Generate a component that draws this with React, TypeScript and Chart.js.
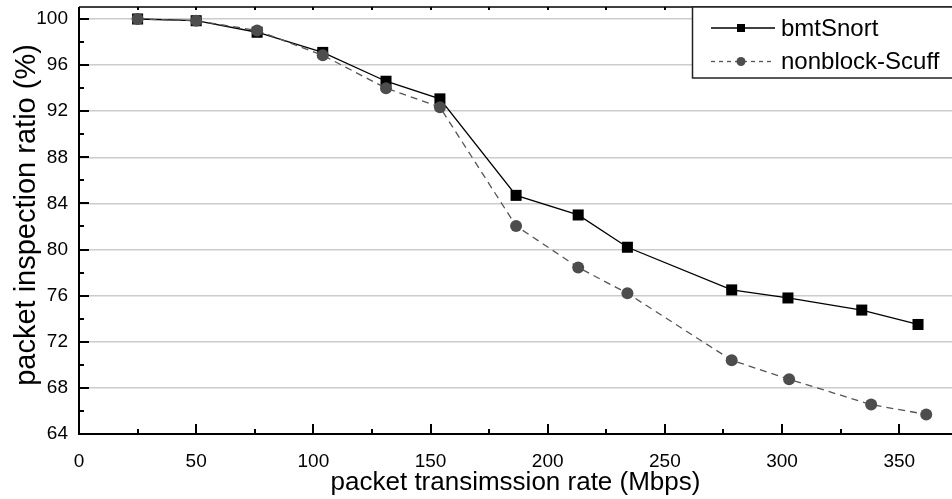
import React, { useEffect, useRef } from 'react';
import { Chart, registerables } from 'chart.js';

Chart.register(...registerables);

const FONT = '"Liberation Sans", Arial, Helvetica, sans-serif';

const seriesNames = ['bmtSnort', 'nonblock-Scuff'];
const bmtRate = [25, 50, 76, 104, 131, 154, 186.5, 213, 234, 278.5, 302.5, 334, 358];
const bmtRatio = [100, 99.85, 98.85, 97.1, 94.6, 93.07, 84.7, 83.0, 80.2, 76.5, 75.8, 74.75, 73.5];
const scuffRate = [25, 50, 76, 104, 131, 154, 186.5, 213, 234, 278.5, 303, 338, 361.5];
const scuffRatio = [100, 99.85, 99.0, 96.85, 94.0, 92.35, 82.05, 78.45, 76.2, 70.4, 68.75, 66.55, 65.7];
const xTickValues = [0, 50, 100, 150, 200, 250, 300, 350];
const yTickValues = [64, 68, 72, 76, 80, 84, 88, 92, 96, 100];
const xTitle = 'packet transimssion rate (Mbps)';
const yTitle = 'packet inspection ratio (%)';

const framePlugin = {
  id: 'frameAndLegend',
  afterDraw(chart: any) {
    const { ctx, chartArea: a, scales } = chart;
    const xs = scales.x;
    const ys = scales.y;
    ctx.save();
    ctx.strokeStyle = '#000';
    ctx.setLineDash([]);
    // frame
    ctx.lineWidth = 2;
    ctx.beginPath();
    ctx.moveTo(a.left, a.top);
    ctx.lineTo(a.left, a.bottom);
    ctx.lineTo(a.right + 2, a.bottom);
    ctx.stroke();
    ctx.lineWidth = 1.6;
    ctx.beginPath();
    ctx.moveTo(a.left, a.top);
    ctx.lineTo(a.right + 2, a.top);
    ctx.stroke();
    // x ticks (bottom + top)
    ctx.lineWidth = 2;
    for (let v = 0; v <= xs.max; v += 25) {
      const px = Math.round(xs.getPixelForValue(v));
      const major = v % 50 === 0;
      ctx.beginPath();
      ctx.moveTo(px, a.bottom);
      ctx.lineTo(px, a.bottom - (major ? 10 : 5));
      ctx.stroke();
      ctx.beginPath();
      ctx.moveTo(px, a.top);
      ctx.lineTo(px, a.top + 3);
      ctx.stroke();
    }
    // y ticks
    for (let v = 64; v <= ys.max; v += 2) {
      const py = Math.round(ys.getPixelForValue(v));
      const major = (v - 64) % 4 === 0;
      ctx.beginPath();
      ctx.moveTo(a.left, py);
      ctx.lineTo(a.left + (major ? 10 : 5), py);
      ctx.stroke();
    }
    // axis titles
    ctx.fillStyle = '#000';
    ctx.font = `26px ${FONT}`;
    ctx.textAlign = 'center';
    ctx.textBaseline = 'alphabetic';
    ctx.fillText(xTitle, (a.left + a.right) / 2, 490);
    ctx.save();
    ctx.translate(35, 215);
    ctx.rotate(-Math.PI / 2);
    ctx.font = `29px ${FONT}`;
    ctx.fillText(yTitle, 0, 0);
    ctx.restore();

    // legend
    const lx = 692.5;
    const ly = a.top;
    ctx.fillStyle = '#fff';
    ctx.fillRect(lx, ly, 960 - lx, 78 - ly);
    ctx.strokeStyle = '#222';
    ctx.lineWidth = 1.5;
    ctx.strokeRect(lx, ly, 960 - lx, 78 - ly);
    const rows = [28, 61.5];
    chart.data.datasets.forEach((ds: any, i: number) => {
      const y = rows[i];
      ctx.save();
      ctx.strokeStyle = ds.borderColor;
      ctx.lineWidth = ds.borderWidth;
      ctx.setLineDash(ds.borderDash ? [4, 4] : []);
      ctx.beginPath();
      ctx.moveTo(711, y);
      ctx.lineTo(775, y);
      ctx.stroke();
      ctx.setLineDash([]);
      ctx.fillStyle = ds.pointBackgroundColor;
      if (ds.pointStyle === 'rect') {
        ctx.fillRect(741 - 4, y - 4, 8, 8);
      } else {
        ctx.beginPath();
        ctx.arc(741, y, 4.5, 0, Math.PI * 2);
        ctx.fill();
      }
      ctx.fillStyle = '#000';
      ctx.font = `24px ${FONT}`;
      ctx.textAlign = 'left';
      ctx.textBaseline = 'middle';
      ctx.fillText(ds.label, 781, y + 1);
      ctx.restore();
    });
    ctx.restore();
  },
};

export default function App() {
  const canvasRef = useRef<HTMLCanvasElement | null>(null);

  useEffect(() => {
    document.body.style.margin = '0';
    const canvas = canvasRef.current;
    if (!canvas) return;
    const chart = new Chart(canvas, {
      type: 'line',
      data: {
        datasets: [
          {
            label: seriesNames[0],
            data: bmtRate.map((x, i) => ({ x, y: bmtRatio[i] })),
            borderColor: '#000',
            borderWidth: 1.3,
            pointStyle: 'rect',
            pointRadius: 7.8,
            pointBackgroundColor: '#000',
            pointBorderColor: '#000',
            pointBorderWidth: 0,
            tension: 0,
            order: 1,
          },
          {
            label: seriesNames[1],
            data: scuffRate.map((x, i) => ({ x, y: scuffRatio[i] })),
            borderColor: '#555',
            borderWidth: 1.3,
            borderDash: [7, 5],
            pointStyle: 'circle',
            pointRadius: 6,
            pointBackgroundColor: '#4d4d4d',
            pointBorderColor: '#4d4d4d',
            pointBorderWidth: 0,
            tension: 0,
            order: 0,
          },
        ],
      },
      options: {
        animation: false,
        responsive: false,
        devicePixelRatio: 1,
        layout: { autoPadding: false, padding: { left: 0, top: 7, right: 0, bottom: 0 } },
        plugins: { legend: { display: false }, tooltip: { enabled: false } },
        scales: {
          x: {
            type: 'linear',
            min: 0,
            max: 372.5,
            afterBuildTicks: (s: any) => {
              s.ticks = xTickValues.map((v) => ({ value: v }));
            },
            afterFit: (s: any) => {
              s.height = 65;
              s.paddingLeft = 0;
              s.paddingRight = 0;
              s.paddingTop = 0;
              s.paddingBottom = 0;
            },
            grid: { display: false },
            border: { display: false },
            ticks: {
              font: { family: FONT, size: 19 },
              color: '#000',
              padding: 8,
              maxRotation: 0,
            },
          },
          y: {
            type: 'linear',
            min: 64,
            max: 101.04,
            afterBuildTicks: (s: any) => {
              s.ticks = yTickValues.map((v) => ({ value: v }));
            },
            afterFit: (s: any) => {
              s.width = 79;
              s.paddingLeft = 0;
              s.paddingRight = 0;
              s.paddingTop = 0;
              s.paddingBottom = 0;
            },
            grid: { color: '#cccccc', lineWidth: 1.5, drawTicks: false },
            border: { display: false },
            ticks: {
              font: { family: FONT, size: 19 },
              color: '#000',
              padding: 11,
            },
          },
        },
      },
      plugins: [framePlugin],
    });
    return () => chart.destroy();
  }, []);

  return (
    <div style={{ position: 'absolute', left: 0, top: 0, width: 952, height: 499 }}>
      <canvas ref={canvasRef} width={952} height={499} style={{ display: 'block', width: 952, height: 499 }} />
    </div>
  );
}
